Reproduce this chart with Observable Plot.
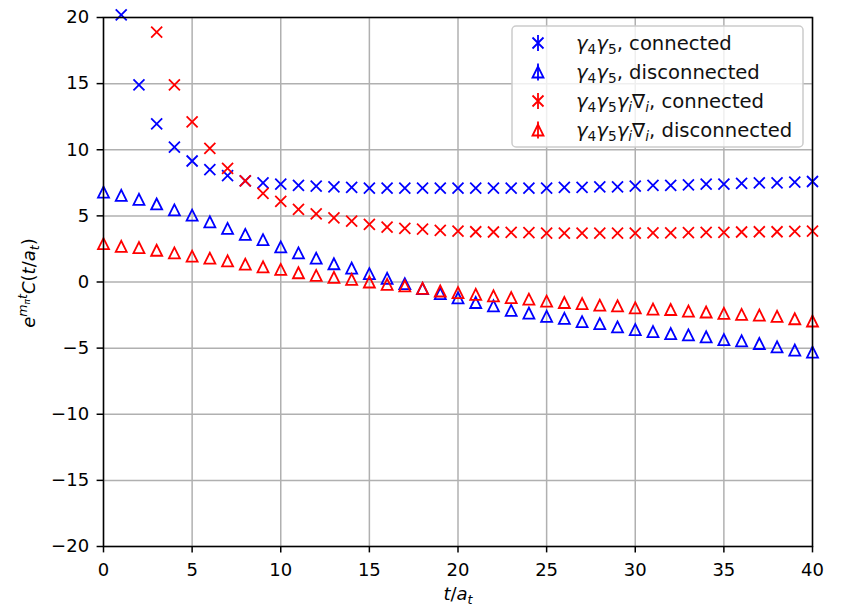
<!DOCTYPE html>
<html><head><meta charset="utf-8">
<script src="https://cdn.jsdelivr.net/npm/d3@7"></script>
<script src="https://cdn.jsdelivr.net/npm/@observablehq/plot@0.6"></script>
<style>
body{margin:0;background:#fff}
#chart{position:relative;width:841px;height:606px}
</style>
</head><body><div id="chart"></div>
<script>
// ---- data ----
const tVals = [0,1,2,3,4,5,6,7,8,9,10,11,12,13,14,15,16,17,18,19,20,21,22,23,24,25,26,27,28,29,30,31,32,33,34,35,36,37,38,39,40];
const g45Connected = [null,20.2,14.9,11.95,10.2,9.15,8.5,8.05,7.65,7.5,7.4,7.3,7.25,7.2,7.15,7.1,7.1,7.1,7.1,7.1,7.1,7.1,7.1,7.1,7.1,7.1,7.15,7.15,7.2,7.2,7.25,7.3,7.3,7.35,7.4,7.4,7.45,7.5,7.5,7.55,7.6];
const g45Disconnected = [6.8,6.55,6.25,5.9,5.45,5.05,4.55,4.05,3.6,3.2,2.65,2.2,1.8,1.38,1.05,0.63,0.28,-0.13,-0.5,-0.88,-1.2,-1.55,-1.8,-2.15,-2.35,-2.6,-2.75,-3.0,-3.15,-3.4,-3.6,-3.75,-3.9,-4.0,-4.15,-4.35,-4.45,-4.65,-4.9,-5.15,-5.3];
const g45gdConnected = [null,null,null,18.9,14.9,12.1,10.1,8.6,7.65,6.7,6.1,5.5,5.15,4.85,4.6,4.35,4.15,4.05,4.0,3.9,3.85,3.8,3.78,3.75,3.73,3.7,3.7,3.7,3.7,3.7,3.7,3.72,3.72,3.74,3.75,3.76,3.78,3.8,3.8,3.82,3.85];
const g45gdDisconnected = [2.9,2.7,2.6,2.4,2.2,1.95,1.8,1.6,1.35,1.15,0.95,0.7,0.5,0.35,0.2,0.0,-0.18,-0.3,-0.48,-0.68,-0.8,-0.93,-1.05,-1.18,-1.3,-1.45,-1.55,-1.63,-1.75,-1.8,-1.95,-2.05,-2.08,-2.2,-2.27,-2.37,-2.45,-2.5,-2.6,-2.78,-2.95];
const xTicks = [0,5,10,15,20,25,30,35,40];
const yTicks = [-20,-15,-10,-5,0,5,10,15,20];
const seriesColors = ["blue","blue","red","red"];

// ---- helpers ----
const toRows = vals => vals.map((v,i)=>({t:tVals[i], v})).filter(d => d.v != null);
const symTimes = {draw(ctx,size){const h=Math.sqrt(size/Math.PI);ctx.moveTo(-h,-h);ctx.lineTo(h,h);ctx.moveTo(h,-h);ctx.lineTo(-h,h);}};
const symTri = {draw(ctx,size){const h=Math.sqrt(size/Math.PI);ctx.moveTo(0,-h);ctx.lineTo(-h,h);ctx.lineTo(h,h);ctx.closePath();}};
const dotOpts = (sym,color) => ({x:"t", y:"v", symbol:sym, r:5.5, stroke:color, fill:"none", strokeWidth:1.8, strokeLinejoin:"miter", ariaLabel:"series-dot"});

const plot = Plot.plot({
  width:841, height:606,
  marginLeft:103, marginRight:29, marginTop:17, marginBottom:60,
  style:{fontFamily:"DejaVu Sans", fontSize:"18px", color:"black", background:"white"},
  x:{domain:[0,40], label:null},
  y:{domain:[-20,20], label:null},
  marks:[
    Plot.gridX(xTicks,{stroke:"#b0b0b0", strokeOpacity:1, strokeWidth:1.5}),
    Plot.gridY(yTicks,{stroke:"#b0b0b0", strokeOpacity:1, strokeWidth:1.5}),
    Plot.dot(toRows(g45Connected), dotOpts(symTimes, seriesColors[0])),
    Plot.dot(toRows(g45Disconnected), dotOpts(symTri, seriesColors[1])),
    Plot.dot(toRows(g45gdConnected), dotOpts(symTimes, seriesColors[2])),
    Plot.dot(toRows(g45gdDisconnected), dotOpts(symTri, seriesColors[3])),
    Plot.frame({stroke:"black", strokeWidth:1.5}),
    Plot.axisX(xTicks,{tickSize:6.4, tickPadding:10, strokeWidth:1.5, stroke:"black", fill:"black", fontSize:18, label:null}),
    Plot.axisY(yTicks,{tickSize:6.4, tickPadding:8, strokeWidth:1.5, stroke:"black", fill:"black", fontSize:18, label:null})
  ]
});
document.getElementById("chart").appendChild(plot);

// ---- clipping of markers to the axes area (slightly loose at the top) ----
const svg = d3.select(plot);
const defs = svg.insert("defs", ":first-child");
defs.append("clipPath").attr("id","axesclip").append("rect")
  .attr("x",100).attr("y",13).attr("width",715).attr("height",536);
svg.selectAll("g[aria-label='series-dot']").attr("clip-path","url(#axesclip)");

// ---- labels & legend (non-data decoration) ----
const ns = "DejaVu Sans";
// x label
const xl = svg.append("text").attr("x",458).attr("y",600).attr("text-anchor","middle")
  .attr("font-family",ns).attr("font-size",18).attr("fill","black");
xl.append("tspan").attr("font-style","italic").text("t");
xl.append("tspan").text("/");
xl.append("tspan").attr("font-style","italic").text("a");
xl.append("tspan").attr("font-style","italic").attr("font-size",12.6).attr("dy",4).text("t");

// y label
const yl = svg.append("text").attr("transform","translate(35,283) rotate(-90)").attr("text-anchor","middle")
  .attr("font-family",ns).attr("font-size",18).attr("fill","black");
yl.append("tspan").attr("font-style","italic").text("e");
yl.append("tspan").attr("font-style","italic").attr("font-size",12.6).attr("dy",-8).text("m");
yl.append("tspan").attr("font-style","italic").attr("font-size",9).attr("dy",3).text("π");
yl.append("tspan").attr("font-style","italic").attr("font-size",12.6).attr("dy",-3).text("t");
yl.append("tspan").attr("font-style","italic").attr("dy",8).text("C");
yl.append("tspan").text("(");
yl.append("tspan").attr("font-style","italic").text("t");
yl.append("tspan").text("/");
yl.append("tspan").attr("font-style","italic").text("a");
yl.append("tspan").attr("font-style","italic").attr("font-size",12.6).attr("dy",4).text("t");
yl.append("tspan").attr("dy",-4).text(")");

// legend
const lg = svg.append("g").attr("text-anchor","start");
lg.append("rect").attr("x",512).attr("y",26).attr("width",291).attr("height",121).attr("rx",4)
  .attr("fill","white").attr("fill-opacity",0.8).attr("stroke","#cccccc").attr("stroke-width",1.5);
const legendItems = [
  {color:seriesColors[0], sym:"x", extra:false, label:", connected"},
  {color:seriesColors[1], sym:"tri", extra:false, label:", disconnected"},
  {color:seriesColors[2], sym:"x", extra:true, label:", connected"},
  {color:seriesColors[3], sym:"tri", extra:true, label:", disconnected"}
];
const LF = 19.6, LS = 13.7;
legendItems.forEach((it,i)=>{
  const cy = 43 + i*29, cx = 538;
  const g = lg.append("g").attr("stroke",it.color).attr("fill","none").attr("stroke-width",1.8);
  if (it.sym==="x"){
    g.append("path").attr("d",`M${cx-5.5},${cy-5.5}L${cx+5.5},${cy+5.5}M${cx+5.5},${cy-5.5}L${cx-5.5},${cy+5.5}`);
    g.append("line").attr("x1",cx).attr("x2",cx).attr("y1",cy-8).attr("y2",cy+8);
  } else {
    g.append("path").attr("d",`M${cx},${cy-5.5}L${cx-5.5},${cy+5.5}L${cx+5.5},${cy+5.5}Z`).attr("stroke-linejoin","miter");
    g.append("line").attr("x1",cx).attr("x2",cx).attr("y1",cy-8.5).attr("y2",cy+8.5);
  }
  const tx = lg.append("text").attr("x",576).attr("y",cy+6.5).attr("text-anchor","start")
    .attr("font-family",ns).attr("font-size",LF).attr("fill","#111");
  tx.append("tspan").attr("font-style","italic").text("γ");
  tx.append("tspan").attr("font-size",LS).attr("dy",4).text("4");
  tx.append("tspan").attr("font-style","italic").attr("dy",-4).text("γ");
  tx.append("tspan").attr("font-size",LS).attr("dy",4).text("5");
  if (it.extra){
    tx.append("tspan").attr("font-style","italic").attr("dy",-4).text("γ");
    tx.append("tspan").attr("font-style","italic").attr("font-size",LS).attr("dy",4).text("i");
    tx.append("tspan").attr("dy",-4).text("∇");
    tx.append("tspan").attr("font-style","italic").attr("font-size",LS).attr("dy",4).text("i");
  }
  tx.append("tspan").attr("dy",-4).text(it.label);
});
</script>
</body></html>
